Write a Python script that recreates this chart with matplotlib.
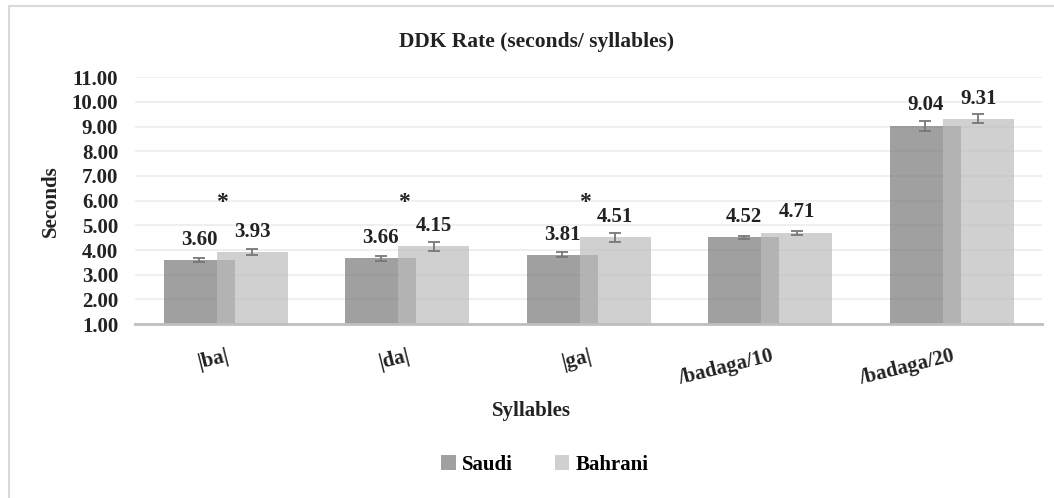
import numpy as np
import matplotlib
matplotlib.use("Agg")
import matplotlib.pyplot as plt
from matplotlib.patches import Rectangle

# Data
categories = ["|ba|", "|da|", "|ga|", "/badaga/10", "/badaga/20"]
saudi = [3.60, 3.66, 3.81, 4.52, 9.04]
bahrani = [3.93, 4.15, 4.51, 4.71, 9.31]
saudi_err = [0.08, 0.12, 0.10, 0.07, 0.20]
bahrani_err = [0.13, 0.17, 0.20, 0.08, 0.18]
significant = [True, True, True, False, False]
yticks = [1, 2, 3, 4, 5, 6, 7, 8, 9, 10, 11]

plt.rcParams['font.family'] = ['Liberation Serif', 'DejaVu Serif']
plt.rcParams['font.weight'] = 'bold'

fig = plt.figure(figsize=(10.54, 4.98), dpi=100)
ax = fig.add_axes([0.128, 0.349, 0.861, 0.496])

x = np.arange(len(categories))
width = 0.39
off = 0.146
ax.set_axisbelow(True)
ax.yaxis.grid(True, color='#ececec', linewidth=1.2)

b1 = ax.bar(x - off, saudi, width, color='#787878', alpha=0.7,
            label='Saudi', zorder=2)
b2 = ax.bar(x + off, bahrani, width, color='#bcbcbc', alpha=0.7,
            label='Bahrani', zorder=3)
ax.errorbar(x - off, saudi, yerr=saudi_err, fmt='none', ecolor='#777777',
            elinewidth=1.3, capsize=4, capthick=1.3, zorder=4)
ax.errorbar(x + off, bahrani, yerr=bahrani_err, fmt='none', ecolor='#777777',
            elinewidth=1.3, capsize=4, capthick=1.3, zorder=4)

# value labels above bars
for xs, vals in [(x - off, saudi), (x + off, bahrani)]:
    for xi, v in zip(xs, vals):
        ax.annotate(f"{v:.2f}", (xi, v), xytext=(0, 11), textcoords='offset points',
                    ha='center', va='baseline', fontsize=15, fontweight='bold',
                    color='#222222')

for xi, s in zip(x, significant):
    if s:
        ax.text(xi - 0.02, 5.72, "*", ha='center', va='baseline', fontsize=17,
                color='#222222')

ax.set_xlim(-0.5, len(categories) - 0.5)
ax.set_ylim(1, 11)
ax.set_yticks(yticks)
ax.set_yticklabels([f"{t:.2f}" for t in yticks], fontsize=15, color='#222222')
ax.set_xticks(x)
ax.set_xticklabels(categories, fontsize=15, color='#222222', rotation=14,
                   ha='right', va='top', rotation_mode='anchor')

for s in ['top', 'right', 'left']:
    ax.spines[s].set_visible(False)
ax.spines['bottom'].set_color('#bfbfbf')
ax.spines['bottom'].set_linewidth(2)
ax.tick_params(axis='both', length=0)
ax.tick_params(axis='y', pad=12)
ax.tick_params(axis='x', pad=16)

fig.text(0.509, 0.916, "DDK Rate (seconds/ syllables)", fontsize=15.5,
         fontweight='bold', color='#222222', ha='center', va='center')
ax.set_ylabel("Seconds", fontsize=15, fontweight='bold', color='#222222', labelpad=8)
ax.set_xlabel("Syllables", fontsize=15, fontweight='bold', color='#222222')
ax.xaxis.set_label_coords(0.437, -0.31)

fig.legend(handles=[b1, b2], labels=['Saudi', 'Bahrani'], loc='center',
           bbox_to_anchor=(0.517, 0.067), ncol=2, frameon=False, fontsize=15,
           handlelength=0.7, handleheight=0.7, columnspacing=2.0, handletextpad=0.3)

fig.patches.append(Rectangle((9 / 1054, -0.05), 1.1, 1.05 - 6 / 498,
                             transform=fig.transFigure, fill=False,
                             edgecolor='#d9d9d9', linewidth=1.5))

fig.savefig("out.png", dpi=100)
